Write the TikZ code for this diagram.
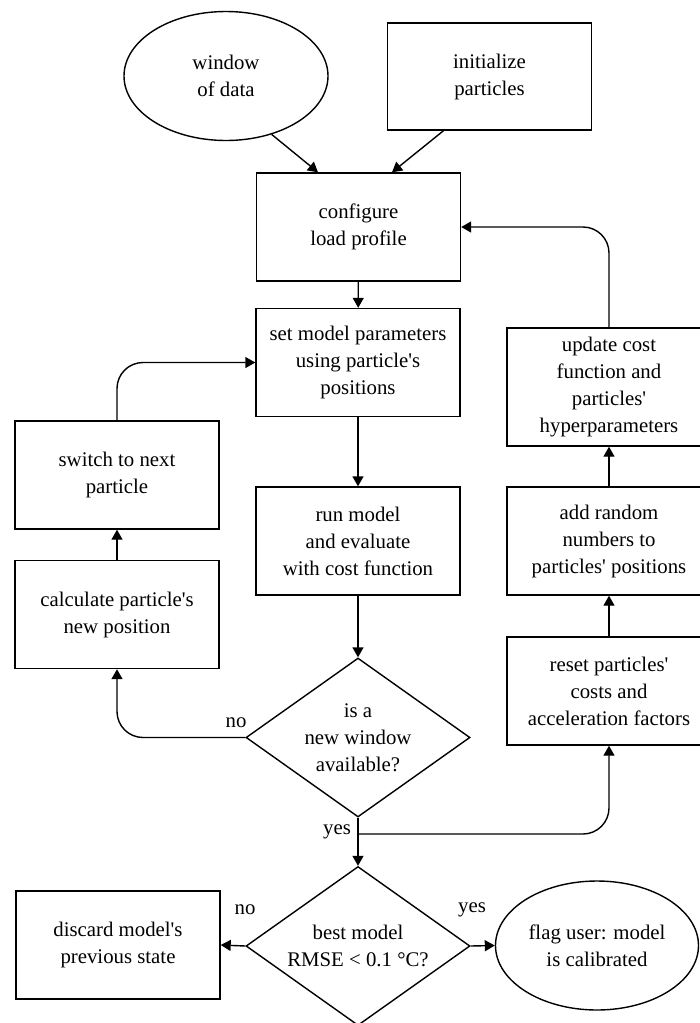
\documentclass[tikz,border=0pt]{standalone}
\usepackage{fontspec}
\setmainfont{Liberation Serif}
\usetikzlibrary{calc, arrows.meta, shapes.geometric}
\newcommand{\apos}{\textquotesingle}

\begin{document}
\begin{tikzpicture}[x=1pt, y=-1pt, font=\fontsize{20.8}{27}\selectfont, line width=1.4pt,
    box/.style={rectangle, draw, align=center, minimum width=204pt, minimum height=108pt, inner sep=2pt},
    terminal/.style={ellipse, draw, align=center, minimum width=204pt, minimum height=129pt, inner sep=0pt},
    decision/.style={diamond, draw, align=center, minimum width=224pt, minimum height=159pt, inner sep=-12pt},
    arr/.style={-{Triangle[length=10pt, width=11pt]}},
    lbl/.style={inner sep=0pt}]
    \useasboundingbox (0,0) rectangle (700,1023);
    \clip (0,0) rectangle (700,1023);
    % inputs
    \node[terminal] (win) at (226,76) {window\\of data};
    \node[box, minimum height=107pt] (init) at (489.5,76.5) {initialize\\particles};
    % main column
    \node[box] (cfg) at (358.5,227) {configure\\load profile};
    \node[box] (setm) at (358,362.5) {set model parameters\\using particle\apos s\\positions};
    \node[box] (run) at (358,541) {run model\\and evaluate\\with cost function};
    \node[decision] (newwin) at (358,737.5) {is a\\new window\\available?};
    \node[decision] (best) at (358,946) {best model\\RMSE < 0.1 °C?};
    % left loop
    \node[box] (calc) at (117,614.5) {calculate particle\apos s\\new position};
    \node[box] (next) at (117,475) {switch to next\\particle};
    % right loop
    \node[box] (reset) at (609,691) {reset particles\apos\\costs and\\acceleration factors};
    \node[box] (rand) at (609,541) {add random\\numbers to\\particles\apos{} positions};
    \node[box, minimum height=118pt] (upd) at (609,387) {update cost\\function and\\particles\apos\\hyperparameters};
    % outcomes
    \node[box] (discard) at (118,945) {discard model\apos s\\previous state};
    \node[terminal, minimum width=203pt] (flag) at (597,945.5) {flag user: model\\is calibrated};
    \coordinate (split) at (358,834);
    % labels
    \node[lbl] (no1) at (236,723) {no};
    \node[lbl] (yes1) at (337,832) {yes};
    \node[lbl] (no2) at (245,910) {no};
    \node[lbl] (yes2) at (472,910) {yes};
    % connectors
    \draw[arr] (win.-52) -- ($(cfg.north)+(-40.5,0)$);
    \draw[arr] ($(init.south)+(-46,0)$) -- ($(cfg.north)+(33.5,0)$);
    \draw[arr] (cfg) -- (setm);
    \draw[arr] (setm) -- (run);
    \draw[arr] (run) -- (newwin);
    \draw[arr, rounded corners=26pt] (newwin.west) -| (calc.south);
    \draw[arr] (calc) -- (next);
    \draw[arr, rounded corners=26pt] (next.north) |- (setm.west);
    \draw (newwin.south) -- (split);
    \draw[arr] (split) -- (best.north);
    \draw[arr, rounded corners=26pt] (split) -| (reset.south);
    \draw[arr] (reset) -- (rand);
    \draw[arr] (rand) -- (upd);
    \draw[arr, rounded corners=26pt] (upd.north) |- (cfg.east);
    \draw[arr] (best.west) -- (discard.east);
    \draw[arr] (best.east) -- (flag.west);
\end{tikzpicture}
\end{document}
